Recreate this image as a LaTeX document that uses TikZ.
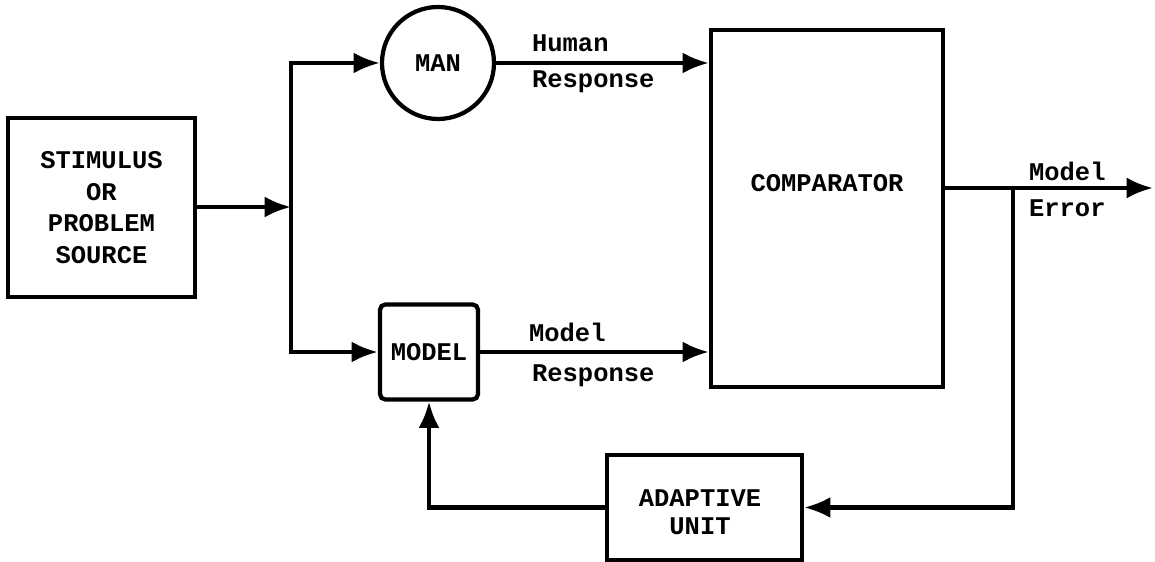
\documentclass[tikz,border=0pt]{standalone}
\usepackage{fontspec}
\setmainfont{Liberation Mono}
\usetikzlibrary{arrows.meta, positioning}

\tikzset{
	block/.style = {draw, line width = 2.4pt, align = center, inner sep = 0pt},
	lbl/.style = {anchor = west, inner sep = 0pt}
}

\begin{document}
\begin{tikzpicture}[> = {Latex[length = 15pt, width = 12pt]}, line width = 2.4pt,
	font = \fontsize{14.5}{18}\selectfont\bfseries]

	\useasboundingbox (0, 0) rectangle (23.1, 11.24);

	% Blocks

	\node [block, minimum width = 3.74 cm, minimum height = 3.58 cm] (stimulus) at (2.03, 7.09) {STIMULUS\\OR\\PROBLEM\\SOURCE};
	\node [block, circle, minimum size = 2.24 cm] (man) at (8.76, 9.98) {MAN};
	\node [block, rounded corners = 3pt, minimum width = 1.96 cm, minimum height = 1.9 cm] (model) at (8.58, 4.2) {MODEL};
	\node [block, minimum width = 4.64 cm, minimum height = 7.14 cm] (comparator) at (16.54, 7.07) {};
	\node (comptext) at (16.54, 7.58) {COMPARATOR};
	\node [block, minimum width = 3.9 cm, minimum height = 2.1 cm] (adaptive) at (14.09, 1.09) {};
	\node [align = center, font = \fontsize{14.5}{16}\selectfont\bfseries] (adapttext) at (14.0, 1.0) {ADAPTIVE\\UNIT};

	% Points

	\coordinate (split) at (5.82, 7.10);
	\coordinate (tap) at (20.26, 7.48);
	\coordinate (out) at (23.06, 7.48);

	% Connections

	\draw [->] (stimulus.east |- split) -- (split);
	\draw [->] (split) |- (man);
	\draw [->] (split) |- (model);
	\draw [->] (man) -- (man -| comparator.west);
	\draw [->] (model) -- (model -| comparator.west);
	\draw [->] (comparator.east |- out) -- (out);
	\draw [->] (tap) |- (adaptive);
	\draw [->] (adaptive) -| (model);

	% Labels

	\node [lbl] (human) at (10.6, 10.38) {Human};
	\node [lbl] (hresp) at (10.6, 9.6) {Response};
	\node [lbl] (mname) at (10.54, 4.6) {Model};
	\node [lbl] (mresp) at (10.6, 3.72) {Response};
	\node [lbl] (ename) at (20.54, 7.82) {Model};
	\node [lbl] (error) at (20.54, 7.08) {Error};

\end{tikzpicture}
\end{document}
